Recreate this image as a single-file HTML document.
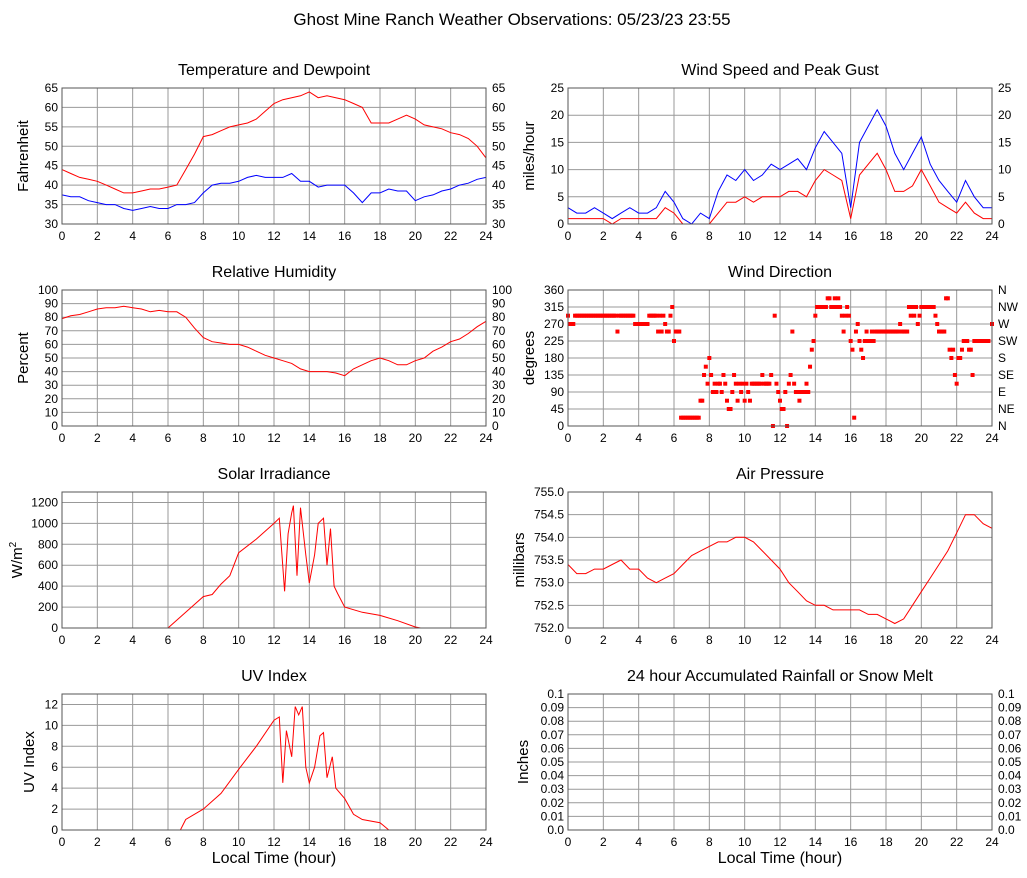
<!DOCTYPE html>
<html><head><meta charset="utf-8"><style>
body{margin:0;background:#fff}
svg{display:block;font-family:"Liberation Sans",sans-serif}
</style></head><body>
<svg id="c" width="1027" height="878" viewBox="0 0 1027 878">
<text x="512" y="25" text-anchor="middle" font-size="17">Ghost Mine Ranch Weather Observations: 05/23/23 23:55</text>
</svg>
<script>
const H49=[];for(let i=0;i<=48;i++)H49.push(i/2);
const tempF=[44,43,42,42,41,40.5,39,38.5,38,39,39,38.5,39,38.5,38.5,39.5,39.5,40,40,44,48,52,52.5,53,54,55,55.5,56,57,59,61,62,62.5,63,64,62.5,63,62.5,62,61,60,56,56,56,57,58,57,55.5,55,55,54.5,53.5,53,52,50,47].slice(0,0);
const temp=[44,43,42,41.5,41,40,39,38,38,38.5,39,39,39.5,40,44,48,52.5,53,54,55,55.5,56,57,59,61,62,62.5,63,64,62.5,63,62.5,62,61,60,56,56,56,57,58,57,55.5,55,54.5,53.5,53,52,50,47];
const dew=[37.5,37,37,36,35.5,35,35,34,33.5,34,34.5,34,34,35,35,35.5,38,40,40.5,40.5,41,42,42.5,42,42,42,43,41,41,39.5,40,40,40,38,35.5,38,38,39,38.5,38.5,36,37,37.5,38.5,39,40,40.5,41.5,42,41.5,40.5].slice(0,49);
const speed=[3,2,2,3,2,1,2,3,2,2,3,6,4,1,0,2,1,6,9,8,10,8,9,11,10,11,12,10,14,17,15,13,3,15,18,21,18,13,10,13,16,11,8,6,4,8,5,3,3];
const gust=[1,1,1,1,1,0,1,1,1,1,1,3,2,0,0,0,0,2,4,4,5,4,5,5,5,6,6,5,8,10,9,8,1,9,11,13,10,6,6,7,10,7,4,3,2,4,2,1,1];
const rh=[79,81,82,84,86,87,87,88,87,86,84,85,84,84,80,72,65,62,61,60,60,58,55,52,50,48,46,42,40,40,40,39,37,42,45,48,50,48,45,45,48,50,55,58,62,64,68,73,77];
const pres=[753.4,753.2,753.2,753.3,753.3,753.4,753.5,753.3,753.3,753.1,753.0,753.1,753.2,753.4,753.6,753.7,753.8,753.9,753.9,754.0,754.0,753.9,753.7,753.5,753.3,753.0,752.8,752.6,752.5,752.5,752.4,752.4,752.4,752.4,752.3,752.3,752.2,752.1,752.2,752.5,752.8,753.1,753.4,753.7,754.1,754.5,754.5,754.3,754.2];
const solarH=[0,6,6.2,7,8,8.5,9,9.5,10,11,12,12.3,12.6,12.8,13,13.1,13.3,13.5,13.8,14,14.3,14.5,14.8,15,15.2,15.4,15.6,16,17,18,19,20,20.3,24];
const solarV=[0,0,30,150,300,320,420,500,720,850,1000,1050,350,900,1100,1170,500,1150,700,430,700,1000,1050,600,950,400,330,200,150,120,70,10,0,0];
const uvH=[0,6.7,7,8,9,10,11,12,12.3,12.5,12.7,13,13.2,13.4,13.6,13.8,14,14.3,14.6,14.8,15,15.3,15.5,16,16.5,17,18,18.5,24];
const uvV=[0,0,1,2,3.5,5.8,8,10.5,10.8,4.5,9.5,7,11.8,11,11.8,6,4.5,6,9,9.3,5,7,4,3,1.5,1,0.7,0,0];
const rainH=[0,24];const rainV=[0,0];
const dirH=[0,.1,.2,.3,.4,.5,.6,.7,.8,.9,1,1.1,1.2,1.3,1.4,1.5,1.6,1.7,1.8,1.9,2,2.1,2.2,2.3,2.4,2.5,2.6,2.7,2.8,2.9,3,3.1,3.2,3.3,3.4,3.5,3.6,3.7,3.8,3.9,4,4.1,4.2,4.3,4.4,4.5,4.6,4.7,4.8,4.9,5,5.1,5.2,5.3,5.4,5.5,5.6,5.7,5.8,5.9,6,6.1,6.2,6.3,6.4,6.5,6.6,6.7,6.8,6.9,7,7.1,7.2,7.3,7.4,7.5,7.6,7.7,7.8,7.9,8,8.1,8.2,8.3,8.4,8.5,8.6,8.7,8.8,8.9,9,9.1,9.2,9.3,9.4,9.5,9.6,9.7,9.8,9.9,10,10.1,10.2,10.3,10.4,10.5,10.6,10.7,10.8,10.9,11,11.1,11.2,11.3,11.4,11.5,11.6,11.7,11.8,11.9,12,12.1,12.2,12.3,12.4,12.5,12.6,12.7,12.8,12.9,13,13.1,13.2,13.3,13.4,13.5,13.6,13.7,13.8,13.9,14,14.1,14.2,14.3,14.4,14.5,14.6,14.7,14.8,14.9,15,15.1,15.2,15.3,15.4,15.5,15.6,15.7,15.8,15.9,16,16.1,16.2,16.3,16.4,16.5,16.6,16.7,16.8,16.9,17,17.1,17.2,17.3,17.4,17.5,17.6,17.7,17.8,17.9,18,18.1,18.2,18.3,18.4,18.5,18.6,18.7,18.8,18.9,19,19.1,19.2,19.3,19.4,19.5,19.6,19.7,19.8,19.9,20,20.1,20.2,20.3,20.4,20.5,20.6,20.7,20.8,20.9,21,21.1,21.2,21.3,21.4,21.5,21.6,21.7,21.8,21.9,22,22.1,22.2,22.3,22.4,22.5,22.6,22.7,22.8,22.9,23,23.1,23.2,23.3,23.4,23.5,23.6,23.8,24];
const dirV=[292,270,270,270,292,292,292,292,292,292,292,292,292,292,292,292,292,292,292,292,292,292,292,292,292,292,292,292,250,292,292,292,292,292,292,292,292,292,270,270,270,270,270,270,270,270,292,292,292,292,292,250,292,250,292,270,250,250,292,315,225,250,250,250,22,22,22,22,22,22,22,22,22,22,22,67,67,135,157,112,180,135,90,112,90,112,112,90,135,112,67,45,45,90,135,112,67,112,90,112,67,112,90,67,112,112,112,112,112,112,135,112,112,112,112,135,0,292,112,90,67,45,45,90,0,112,135,250,112,90,90,67,90,90,90,112,90,157,202,225,292,315,315,315,315,315,315,338,338,315,315,338,315,338,315,292,250,292,315,292,225,202,22,250,270,225,202,180,225,250,225,225,250,225,250,250,250,250,250,250,250,250,250,250,250,250,250,250,270,250,250,250,250,315,292,315,292,315,270,292,315,315,315,315,315,315,315,315,292,270,250,250,250,250,338,338,202,180,202,135,112,180,180,202,225,225,225,202,202,135,225,225,225,225,225,225,225,225,270,292,225,292];
</script>
<script>
const S=document.getElementById('c');const NS='http://www.w3.org/2000/svg';
function el(tag,a,txt,parent){const e=document.createElementNS(NS,tag);for(const k in a)e.setAttribute(k,a[k]);if(txt!==undefined)e.textContent=txt;(parent||S).appendChild(e);return e;}
function panel(o){
 const g=el('g',{});
 
 
 const x0=o.x,x1=o.x+424,y0=o.y,y1=o.y+136;
 const X=h=>x0+h/24*424, Y=v=>y1-(v-o.min)/(o.max-o.min)*136;
 const t=el('text',{x:(x0+x1)/2,y:y0-13,'text-anchor':'middle','font-size':16},o.title,g);
 
 
 for(let h=2;h<24;h+=2)el('line',{x1:X(h),x2:X(h),y1:y0,y2:y1,stroke:'#999','stroke-width':1},undefined,g);
 o.ticks.forEach((v,i)=>{const y=Y(v);
  if(y>y0+0.5&&y<y1-0.5)el('line',{x1:x0,x2:x1,y1:y,y2:y,stroke:'#999','stroke-width':1},undefined,g);
  const lt=el('text',{x:x0-4,y:y+4,'text-anchor':'end','font-size':12},o.labels[i],g);
  
  
  if(o.rlabels){const rt=el('text',{x:x1+6,y:y+4,'font-size':12},o.rlabels[i],g);
   
   }
 });
 for(let h=0;h<=24;h+=2){const xt=el('text',{x:X(h),y:y1+16,'text-anchor':'middle','font-size':12},String(h),g);
  
  }
 const yt=el('text',{x:0,y:0,'text-anchor':'middle','font-size':15,transform:`translate(${x0-o.ylabOff},${(y0+y1)/2}) rotate(-90)`},undefined,g);
 
 
 yt.innerHTML=o.ylab;
 if(o.xlab){const xl=el('text',{x:(x0+x1)/2,y:y1+33,'text-anchor':'middle','font-size':16},'Local Time (hour)',g);
  
  }
 (o.series||[]).forEach(s=>{const d=s.h.map((h,i)=>(i?'L':'M')+X(h).toFixed(1)+','+Y(s.v[i]).toFixed(1)).join('');
  const p=el('path',{d,fill:'none',stroke:s.c,'stroke-width':1},undefined,g);
  
  });
 if(o.points){o.points.h.forEach((h,i)=>{const r=el('rect',{x:X(h)-2,y:Y(o.points.v[i])-2,width:4,height:4,fill:'#f00'},undefined,g);
  
  });}
 el('rect',{x:x0,y:y0,width:424,height:136,fill:'none',stroke:'#555','stroke-width':1},undefined,g);
}
const L=62,R=568;
const tT=[30,35,40,45,50,55,60,65];
panel({name:'temperature-panel',x:L,y:88,min:30,max:65,ticks:tT,labels:tT.map(String),rlabels:tT.map(String),title:'Temperature and Dewpoint',ylab:'Fahrenheit',ylabOff:34,
 series:[{h:H49,v:temp,c:'#f00',n:'temperature-line'},{h:H49,v:dew,c:'#00f',n:'dewpoint-line'}]});
const wT=[0,5,10,15,20,25];
panel({name:'wind-speed-panel',x:R,y:88,min:0,max:25,ticks:wT,labels:wT.map(String),rlabels:wT.map(String),title:'Wind Speed and Peak Gust',ylab:'miles/hour',ylabOff:34,
 series:[{h:H49,v:speed,c:'#00f',n:'wind-speed-line'},{h:H49,v:gust,c:'#f00',n:'peak-gust-line'}]});
const rT=[0,10,20,30,40,50,60,70,80,90,100];
panel({name:'humidity-panel',x:L,y:290,min:0,max:100,ticks:rT,labels:rT.map(String),rlabels:rT.map(String),title:'Relative Humidity',ylab:'Percent',ylabOff:34,
 series:[{h:H49,v:rh,c:'#f00',n:'humidity-line'}]});
const dT=[0,45,90,135,180,225,270,315,360];
panel({name:'wind-direction-panel',x:R,y:290,min:0,max:360,ticks:dT,labels:dT.map(String),rlabels:['N','NE','E','SE','S','SW','W','NW','N'],title:'Wind Direction',ylab:'degrees',ylabOff:34,
 points:{h:dirH,v:dirV}});
const sT=[0,200,400,600,800,1000,1200];
panel({name:'solar-panel',x:L,y:492,min:0,max:1300,ticks:sT,labels:sT.map(String),title:'Solar Irradiance',ylab:'W/m<tspan dy="-6" font-size="10">2</tspan>',ylabOff:40,
 series:[{h:solarH,v:solarV,c:'#f00',n:'solar-line'}]});
const pT=[752,752.5,753,753.5,754,754.5,755];
panel({name:'pressure-panel',x:R,y:492,min:752,max:755,ticks:pT,labels:pT.map(v=>v.toFixed(1)),title:'Air Pressure',ylab:'millibars',ylabOff:44,
 series:[{h:H49,v:pres,c:'#f00',n:'pressure-line'}]});
const uT=[0,2,4,6,8,10,12];
panel({name:'uv-panel',x:L,y:694,min:0,max:13,ticks:uT,labels:uT.map(String),title:'UV Index',ylab:'UV Index',ylabOff:28,xlab:true,
 series:[{h:uvH,v:uvV,c:'#f00',n:'uv-line'}]});
const nT=[0,0.01,0.02,0.03,0.04,0.05,0.06,0.07,0.08,0.09,0.1];
const nL=nT.map(v=>v===0?'0.0':String(v));
panel({name:'rainfall-panel',x:R,y:694,min:0,max:0.1,ticks:nT,labels:nL,rlabels:nL,title:'24 hour Accumulated Rainfall or Snow Melt',ylab:'Inches',ylabOff:40,xlab:true,
 series:[{h:rainH,v:rainV,c:'#f00',n:'rainfall-line'}]});
</script>
</body></html>
